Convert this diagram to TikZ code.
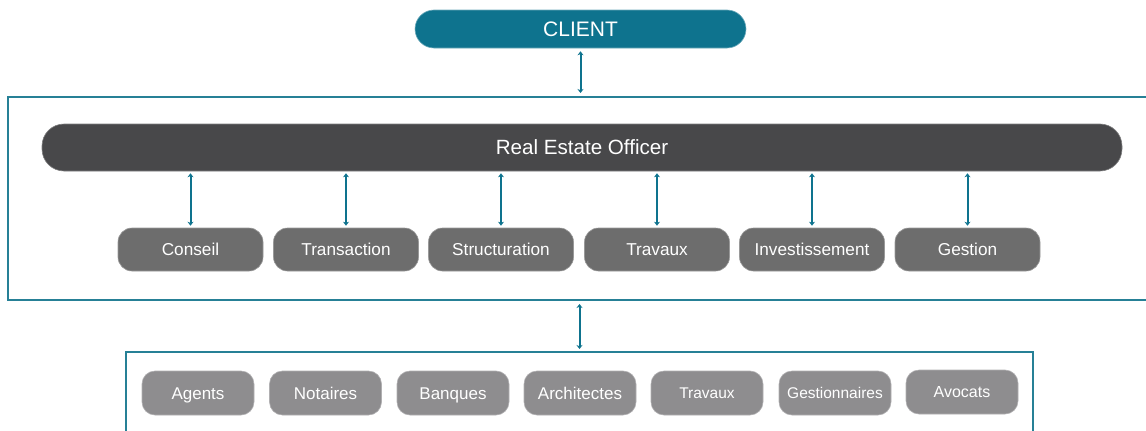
\documentclass[tikz,border=0pt]{standalone}
\usepackage{fontspec}
\setmainfont{Liberation Sans}
\usetikzlibrary{arrows.meta}
\definecolor{teal1}{RGB}{14,115,142}
\definecolor{frame}{RGB}{38,128,150}
\definecolor{dark}{RGB}{72,72,74}
\definecolor{mid}{RGB}{109,109,109}
\definecolor{light}{RGB}{142,141,143}
\tikzset{
  pill/.style={rounded corners=#1, inner sep=0pt, text=white, anchor=center, text depth=0pt},
  toprow/.style={pill=14pt, fill=mid, draw=mid!70!white, line width=0.6pt, minimum width=145pt, minimum height=43pt, font=\fontsize{17.2}{20}\selectfont, text height=12.3pt},
  botrow/.style={pill=13pt, fill=light, draw=light!70!white, line width=0.6pt, minimum width=112pt, minimum height=44pt, font=\fontsize{17}{20}\selectfont, text height=12.2pt},
  smalltxt/.style={font=\fontsize{15.5}{18}\selectfont, text height=11.1pt},
  container/.style={draw=frame, line width=2pt, inner sep=0pt},
  link/.style={draw=teal1, line width=2pt, {Stealth[length=4pt,width=6pt]}-{Stealth[length=4pt,width=6pt]}},
}
\begin{document}
\begin{tikzpicture}[x=1pt,y=-1pt]
\useasboundingbox (0,0) rectangle (1146,431);
\clip (0,0) rectangle (1146,431);
% containers
\node[container, minimum width=1172pt, minimum height=203pt] (outer) at (594,198.5) {};
\node[container, minimum width=907pt, minimum height=110pt] (lower) at (579.5,407) {};
% client
\node[pill=19pt, fill=teal1, draw=teal1!60!white, line width=0.6pt, minimum width=331pt, minimum height=38pt, font=\fontsize{21}{24}\selectfont, text height=15pt] (client) at (580.5,29) {CLIENT};
% officer bar
\node[pill=22pt, fill=dark, draw=dark!70!white, line width=0.6pt, minimum width=1080pt, minimum height=47pt, font=\fontsize{20.6}{24}\selectfont, text height=14.8pt] (reo) at (582,147.5) {Real Estate Officer};
% top row
\node[toprow] (conseil) at (190.5,249.5) {Conseil};
\node[toprow] (transaction) at (346,249.5) {Transaction};
\node[toprow] (structuration) at (501,249.5) {Structuration};
\node[toprow] (travaux) at (657,249.5) {Travaux};
\node[toprow] (invest) at (812,249.5) {Investissement};
\node[toprow] (gestion) at (967.5,249.5) {Gestion};
% bottom row
\node[botrow] (agents) at (198,393) {Agents};
\node[botrow] (notaires) at (325.5,393) {Notaires};
\node[botrow] (banques) at (453,393) {Banques};
\node[botrow] (architectes) at (580,393) {Architectes};
\node[botrow, smalltxt] (travaux2) at (707,393) {Travaux};
\node[botrow, smalltxt] (gestionnaires) at (835,393) {Gestionnaires};
\node[botrow, font=\fontsize{16}{19}\selectfont, text height=11.5pt] (avocats) at (962,392) {Avocats};
% links
\draw[link, shorten <=3pt, shorten >=3pt] (client.south) -- (outer.north -| client.south);
\draw[link, shorten <=3pt, shorten >=2pt] (outer.south -| lower.north) -- (lower.north);
\foreach \n in {conseil,transaction,structuration,travaux,invest,gestion}{
  \draw[link, shorten <=2pt, shorten >=2pt] (reo.south -| \n.north) -- (\n.north);
}
\end{tikzpicture}
\end{document}
